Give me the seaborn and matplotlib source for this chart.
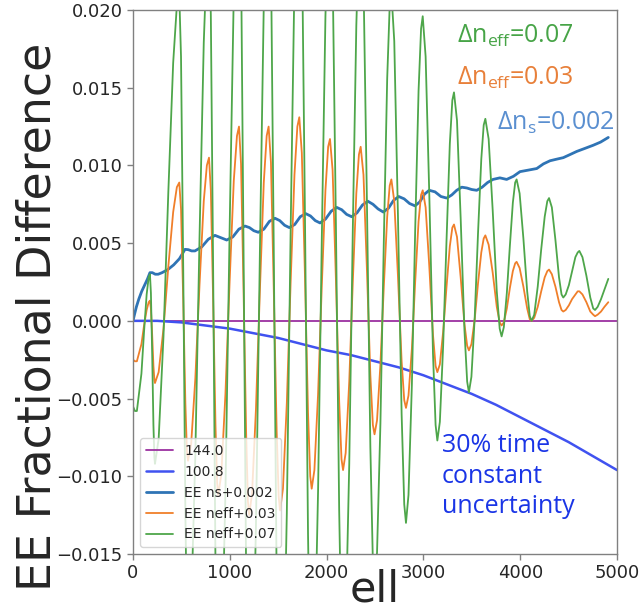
import matplotlib
matplotlib.use("Agg")
import matplotlib.pyplot as plt
import seaborn as sns

# ---------------- data (values read / estimated from the reference) ----------------
ell_flat = [0, 5000]
val_144 = [0.0, 0.0]

ell_tc = [0, 250, 500, 750, 1000, 1250, 1500, 1750, 2000, 2250, 2500,
          2750, 3000, 3250, 3500, 3750, 4000, 4250, 4500, 4750, 5000]
val_100_8 = [0.0, 0.0, -0.0001, -0.0003, -0.0005, -0.0008, -0.0011, -0.0015,
             -0.0019, -0.0022, -0.0026, -0.0030, -0.0035, -0.0041, -0.0047,
             -0.0054, -0.0062, -0.0070, -0.0078, -0.0087, -0.0096]

ell_ns = [0, 15, 35, 60, 90, 120, 150, 175, 200, 230, 260, 300, 360, 420, 480,
          537, 571, 606, 640, 709, 778,
          847, 887, 928, 968, 1031, 1094,
          1157, 1203, 1248, 1294, 1352, 1409,
          1467, 1516, 1566, 1615, 1671, 1728,
          1784, 1833, 1883, 1932, 1989, 2047,
          2104, 2156, 2207, 2259, 2314, 2370,
          2425, 2479, 2532, 2586, 2639, 2692,
          2745, 2801, 2857, 2913, 2962, 3011,
          3060, 3120, 3181, 3241, 3293, 3344,
          3396, 3448, 3499, 3551, 3607, 3663,
          3719, 3790, 3860, 3930, 3998, 4085, 4171, 4240, 4308, 4375,
          4445, 4515, 4584, 4670, 4755, 4830, 4910]
val_ns = [0.0000, 0.0004, 0.0009, 0.0014, 0.0019, 0.0023, 0.0027, 0.0031,
          0.0031, 0.0030, 0.0030, 0.0031, 0.0033, 0.0036, 0.0040,
          0.0046, 0.00458, 0.0045, 0.0045, 0.00475, 0.00525,
          0.0055, 0.0054, 0.0053, 0.0052, 0.0054, 0.0059,
          0.0061, 0.0060, 0.0058, 0.0057, 0.0059, 0.0064,
          0.0066, 0.00645, 0.00615, 0.0060, 0.0062, 0.0067,
          0.0069, 0.00675, 0.00645, 0.0063, 0.00655, 0.00705,
          0.0073, 0.00715, 0.00685, 0.0067, 0.00695, 0.00745,
          0.0077, 0.0075, 0.0072, 0.0070, 0.00725, 0.00775,
          0.0080, 0.00785, 0.00755, 0.0074, 0.00765, 0.00815,
          0.0084, 0.0083, 0.0080, 0.0079, 0.0081, 0.0084,
          0.0086, 0.00855, 0.00845, 0.0084, 0.0086, 0.0089,
          0.0091, 0.0092, 0.0091, 0.0093, 0.0096, 0.0097, 0.0098, 0.0101, 0.0103, 0.0104,
          0.0105, 0.0107, 0.0109, 0.0111, 0.0113, 0.0115, 0.0118]

ell_neff = [
    0, 20, 40, 87, 114, 141, 162, 175, 185, 198, 211, 221,
    227, 265, 315, 365, 415, 453, 478, 496, 519, 541, 557,
    568, 601, 644, 687, 731, 763, 785, 804, 828, 852, 869,
    880, 912, 955, 998, 1041, 1074, 1095, 1116, 1142, 1169, 1187,
    1200, 1230, 1270, 1311, 1351, 1381, 1401, 1425, 1454, 1484, 1505,
    1519, 1549, 1589, 1628, 1668, 1698, 1718, 1744, 1776, 1808, 1831,
    1846, 1874, 1912, 1950, 1988, 2016, 2035, 2062, 2096, 2130, 2154,
    2170, 2197, 2234, 2270, 2307, 2334, 2352, 2381, 2416, 2452, 2478,
    2495, 2521, 2556, 2591, 2626, 2652, 2669, 2699, 2737, 2775, 2802,
    2820, 2846, 2881, 2915, 2950, 2976, 2993, 3023, 3061, 3099, 3126,
    3144, 3170, 3204, 3239, 3273, 3299, 3316, 3347, 3385, 3424, 3452,
    3470, 3496, 3530, 3564, 3598, 3623, 3640, 3674, 3716, 3758, 3788,
    3808, 3831, 3862, 3893, 3924, 3948, 3963, 3994, 4033, 4072, 4099,
    4118, 4145, 4181, 4217, 4253, 4280, 4298, 4327, 4364, 4401, 4427,
    4445, 4470, 4503, 4536, 4570, 4594, 4611, 4643, 4684, 4724, 4754,
    4773, 4800, 4835, 4870, 4910]

val_neff03 = [
    -0.0025, -0.0026, -0.0026, -0.0015, -0.0003, 0.0007, 0.0012, 0.0013, 0.0008, -0.0009, -0.0029, -0.0038,
    -0.0040, -0.0033, -0.0005, 0.0035, 0.0070, 0.0086, 0.0089, 0.0072, 0.0013, -0.0053, -0.0084,
    -0.0090, -0.0079, -0.0037, 0.0023, 0.0077, 0.0100, 0.0105, 0.0084, 0.0013, -0.0067, -0.0104,
    -0.0112, -0.0099, -0.0047, 0.0025, 0.0090, 0.0119, 0.0125, 0.0101, 0.0020, -0.0073, -0.0116,
    -0.0125, -0.0111, -0.0057, 0.0020, 0.0089, 0.0119, 0.0125, 0.0102, 0.0021, -0.0071, -0.0113,
    -0.0122, -0.0108, -0.0053, 0.0024, 0.0094, 0.0125, 0.0131, 0.0108, 0.0030, -0.0059, -0.0100,
    -0.0108, -0.0096, -0.0047, 0.0022, 0.0084, 0.0112, 0.0117, 0.0097, 0.0027, -0.0052, -0.0089,
    -0.0096, -0.0085, -0.0039, 0.0024, 0.0082, 0.0107, 0.0112, 0.0094, 0.0034, -0.0035, -0.0067,
    -0.0073, -0.0064, -0.0028, 0.0022, 0.0067, 0.0087, 0.0091, 0.0077, 0.0029, -0.0026, -0.0051,
    -0.0056, -0.0048, -0.0018, 0.0025, 0.0064, 0.0081, 0.0084, 0.0073, 0.0035, -0.0009, -0.0029,
    -0.0033, -0.0028, -0.0007, 0.0022, 0.0048, 0.0060, 0.0062, 0.0054, 0.0028, -0.0002, -0.0016,
    -0.0019, -0.0015, 0.0001, 0.0024, 0.0044, 0.0053, 0.0055, 0.0049, 0.0031, 0.0009, -0.0001,
    -0.0003, -0.0001, 0.0008, 0.0021, 0.0032, 0.0037, 0.0038, 0.0034, 0.0022, 0.0008, 0.0001,
    0.0000, 0.0002, 0.0009, 0.0019, 0.0028, 0.0032, 0.0033, 0.0030, 0.0022, 0.0012, 0.0007,
    0.0006, 0.0007, 0.0010, 0.0014, 0.0017, 0.0019, 0.0019, 0.0017, 0.0012, 0.0006, 0.0004,
    0.0003, 0.0004, 0.0006, 0.0009, 0.0012]

val_neff07 = [
    -0.0055, -0.0058, -0.0058, -0.0034, -0.0007, 0.0017, 0.0028, 0.0030, 0.0018, -0.0021, -0.0067, -0.0088,
    -0.0092, -0.0076, -0.0010, 0.0083, 0.0166, 0.0203, 0.0210, 0.0170, 0.0033, -0.0123, -0.0195,
    -0.0210, -0.0185, -0.0086, 0.0053, 0.0179, 0.0234, 0.0245, 0.0197, 0.0032, -0.0156, -0.0242,
    -0.0260, -0.0230, -0.0110, 0.0058, 0.0210, 0.0277, 0.0290, 0.0235, 0.0045, -0.0171, -0.0270,
    -0.0290, -0.0258, -0.0132, 0.0045, 0.0205, 0.0276, 0.0290, 0.0235, 0.0047, -0.0167, -0.0265,
    -0.0285, -0.0253, -0.0124, 0.0056, 0.0219, 0.0291, 0.0305, 0.0252, 0.0070, -0.0137, -0.0233,
    -0.0252, -0.0223, -0.0109, 0.0051, 0.0196, 0.0260, 0.0273, 0.0226, 0.0063, -0.0122, -0.0207,
    -0.0224, -0.0198, -0.0092, 0.0056, 0.0190, 0.0249, 0.0261, 0.0220, 0.0079, -0.0081, -0.0155,
    -0.0170, -0.0149, -0.0066, 0.0051, 0.0156, 0.0203, 0.0212, 0.0180, 0.0068, -0.0060, -0.0118,
    -0.0130, -0.0112, -0.0041, 0.0058, 0.0148, 0.0188, 0.0196, 0.0170, 0.0081, -0.0021, -0.0067,
    -0.0077, -0.0065, -0.0016, 0.0052, 0.0114, 0.0142, 0.0147, 0.0129, 0.0066, -0.0006, -0.0039,
    -0.0046, -0.0036, 0.0002, 0.0056, 0.0104, 0.0126, 0.0130, 0.0117, 0.0071, 0.0019, -0.0005,
    -0.0010, -0.0004, 0.0018, 0.0048, 0.0076, 0.0089, 0.0091, 0.0082, 0.0053, 0.0019, 0.0003,
    0.0000, 0.0004, 0.0022, 0.0046, 0.0067, 0.0077, 0.0079, 0.0073, 0.0052, 0.0028, 0.0017,
    0.0015, 0.0017, 0.0023, 0.0032, 0.0041, 0.0044, 0.0045, 0.0041, 0.0029, 0.0015, 0.0008,
    0.0007, 0.0009, 0.0014, 0.0020, 0.0027]

x_ticks = [0, 1000, 2000, 3000, 4000, 5000]
y_ticks = [-0.015, -0.010, -0.005, 0.000, 0.005, 0.010, 0.015, 0.020]

# ---------------- style ----------------
sns.set_style("ticks")
plt.rcParams["font.family"] = ["DejaVu Sans"]
plt.rcParams["mathtext.fontset"] = "custom"
plt.rcParams["mathtext.rm"] = "Open Sans"
plt.rcParams["mathtext.it"] = "Open Sans:italic"
plt.rcParams["mathtext.bf"] = "Open Sans:bold"

W, H = 643, 611
fig = plt.figure(figsize=(W / 100, H / 100), dpi=100)
L, R, T, B = 133, 617, 10, 554
ax = fig.add_axes([L / W, 1 - B / H, (R - L) / W, (B - T) / H])

sns.lineplot(x=ell_flat, y=val_144, ax=ax, color="#9b30a0", linewidth=1.3, label="144.0")
sns.lineplot(x=ell_tc, y=val_100_8, ax=ax, color="#4052f0", linewidth=1.8, label="100.8")
sns.lineplot(x=ell_ns, y=val_ns, ax=ax, color="#2f74b5", linewidth=2.0, label="EE ns+0.002")
sns.lineplot(x=ell_neff, y=val_neff03, ax=ax, color="#f07f2a", linewidth=1.3, label="EE neff+0.03")
sns.lineplot(x=ell_neff, y=val_neff07, ax=ax, color="#4ea64a", linewidth=1.3, label="EE neff+0.07")

ax.set_xlim(0, 5000)
ax.set_ylim(-0.015, 0.020)
ax.set_xticks(x_ticks)
ax.set_yticks(y_ticks)
ax.set_yticklabels([f"{v:.3f}".replace("-", "\u2212") for v in y_ticks])
ax.tick_params(labelsize=13, length=4, width=1, color="#808080")
for s in ax.spines.values():
    s.set_color("#808080")
    s.set_linewidth(1.0)

ax.set_xlabel("ell", fontsize=31, labelpad=-10)
ax.set_ylabel("EE Fractional Difference", fontsize=33)
ax.yaxis.set_label_coords(-0.149, 0.436)

leg = ax.legend(loc="lower left", fontsize=10, framealpha=0.8)

def ftext(x, y, s, color):
    fig.text(x / W, 1 - y / H, s, color=color, fontsize=18,
             family="Open Sans", va="baseline", ha="left")

ftext(457, 43, "Δn$_{\\rm eff}$=0.07", "#47a447")
ftext(457, 85, "Δn$_{\\rm eff}$=0.03", "#e8803a")
ftext(497, 130, "Δn$_{\\rm s}$=0.002", "#5a8fd0")
ftext(442, 452, "30% time", "#1a35e6")
ftext(442, 483, "constant", "#1a35e6")
ftext(442, 513, "uncertainty", "#1a35e6")

fig.savefig("out.png", dpi=100)
